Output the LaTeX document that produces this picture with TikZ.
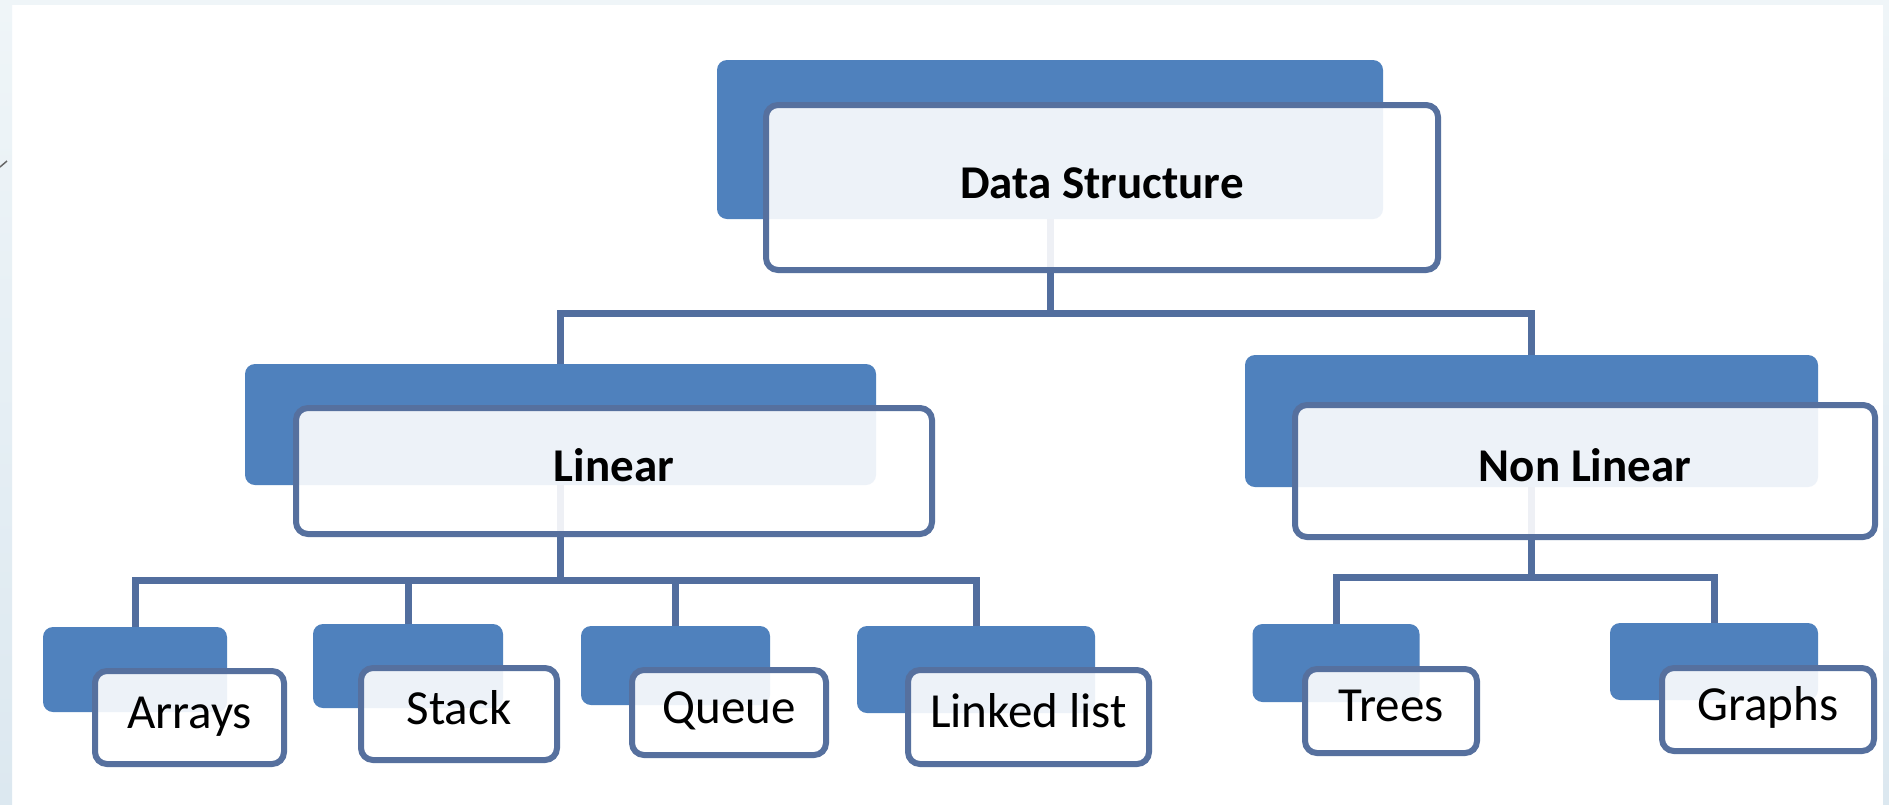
\documentclass[tikz,border=0pt]{standalone}
\usepackage{fontspec}
\setmainfont{Carlito}

\definecolor{boxblue}{RGB}{79,129,189}
\definecolor{rimblue}{RGB}{86,112,158}
\definecolor{linkblue}{RGB}{82,110,158}
\definecolor{stripTop}{RGB}{239,245,248}
\definecolor{stripLow}{RGB}{220,232,240}

\tikzset{
  backbox/.style={fill=boxblue, draw=none, rounded corners=10pt, inner sep=0pt},
  frontbox/.style={fill=white, fill opacity=0.9, text opacity=1, draw=rimblue, draw opacity=1,
    line width=6pt, rounded corners=12pt, inner sep=0pt, text height=25pt, text depth=4pt,
    font=\fontsize{49}{58}\selectfont},
  headbox/.style={frontbox, font=\fontsize{47}{56}\selectfont\bfseries},
  link/.style={draw=linkblue, line width=7pt},
}

\begin{document}
\begin{tikzpicture}[x=1pt,y=-1pt]
\useasboundingbox (0,0) rectangle (1889,804);

% page and slide border
\fill[white] (0,0) rectangle (1889,804);
\fill[top color=stripTop, bottom color=stripLow] (0,0) rectangle (12,804);
\fill[stripTop] (12,0) rectangle (1889,5);
\fill[top color=stripTop, bottom color=stripLow] (1883,5) rectangle (1889,804);
\draw[black!60, line width=1.5pt] (0,167) -- (7,161);

% back plates
\node[backbox, minimum width=666pt, minimum height=159pt] (ds-back) at (1050,139.5) {};
\node[backbox, minimum width=631pt, minimum height=121pt] (lin-back) at (560.5,424.5) {};
\node[backbox, minimum width=573pt, minimum height=132pt] (nl-back) at (1531.5,421) {};
\node[backbox, minimum width=184pt, minimum height=85pt] (arr-back) at (135,669.5) {};
\node[backbox, minimum width=190pt, minimum height=84pt] (stk-back) at (408,666) {};
\node[backbox, minimum width=189pt, minimum height=79pt] (que-back) at (675.5,665.5) {};
\node[backbox, minimum width=238pt, minimum height=87pt] (lnk-back) at (976,669.5) {};
\node[backbox, minimum width=167pt, minimum height=78pt] (tre-back) at (1336,663) {};
\node[backbox, minimum width=208pt, minimum height=77pt] (grf-back) at (1714,661.5) {};

% connectors
\draw[link] (ds-back.south) -- ++(0,94) -| (lin-back.north);
\draw[link] (ds-back.south) -- ++(0,94) -| (nl-back.north);
\foreach \leaf in {arr,stk,que,lnk}
  \draw[link] (lin-back.south) -- ++(0,95) -| (\leaf-back.north);
\foreach \leaf in {tre,grf}
  \draw[link] (nl-back.south) -- ++(0,90) -| (\leaf-back.north);

% front cards
\node[headbox, minimum width=672pt, minimum height=165pt] (ds) at (1102,187.5) {Data Structure};
\node[headbox, minimum width=636pt, minimum height=126pt] (lin) at (614,471) {Linear};
\node[headbox, minimum width=580pt, minimum height=132pt] (nl) at (1585,471) {Non Linear};
\node[frontbox, minimum width=189pt, minimum height=93pt] (arr) at (189.5,717.5) {Arrays};
\node[frontbox, minimum width=196pt, minimum height=92pt] (stk) at (459,714) {Stack};
\node[frontbox, minimum width=194pt, minimum height=85pt] (que) at (729,712.5) {Queue};
\node[frontbox, minimum width=241pt, minimum height=94pt] (lnk) at (1028.5,717) {Linked list};
\node[frontbox, minimum width=172pt, minimum height=84pt] (tre) at (1391,711) {Trees};
\node[frontbox, minimum width=212pt, minimum height=83pt] (grf) at (1768,709.5) {Graphs};

\end{tikzpicture}
\end{document}
